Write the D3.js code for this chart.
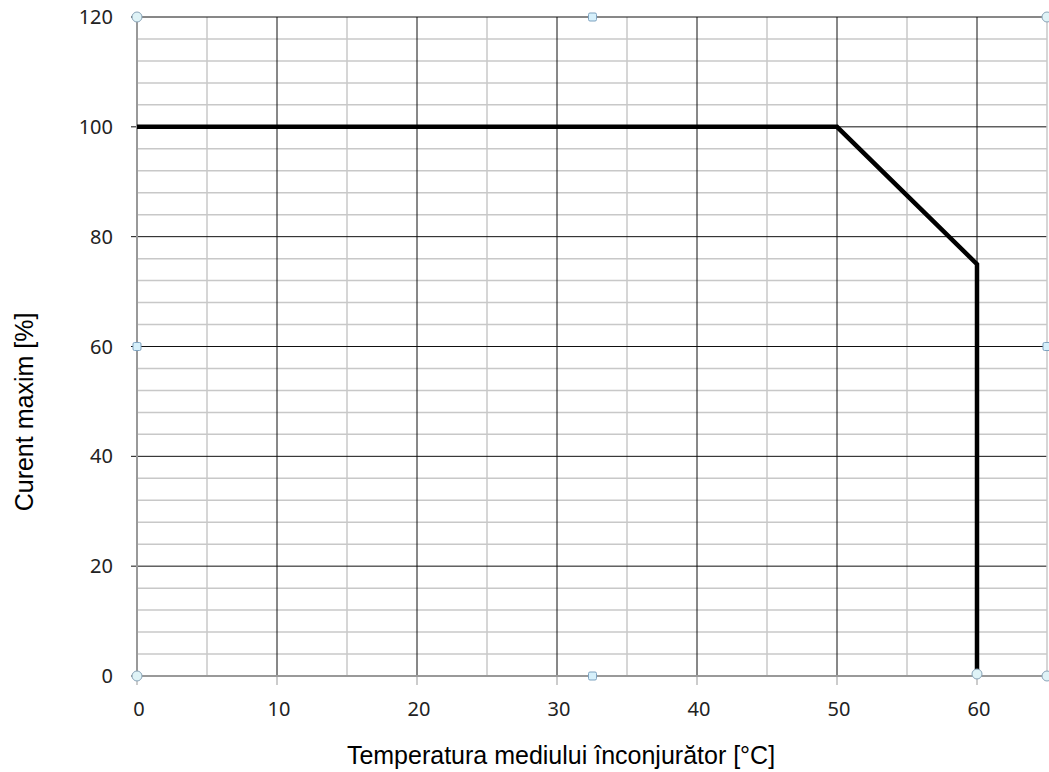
<!DOCTYPE html>
<html>
<head>
<meta charset="utf-8">
<script src="https://cdn.jsdelivr.net/npm/d3@7"></script>
<style>
  body { margin: 0; background: #fff; }
  .tick-label { font-family: "Noto Sans", sans-serif; font-size: 20px; fill: #222; }
  .axis-title { font-family: "Liberation Sans", Arial, sans-serif; font-size: 25px; fill: #000; }
</style>
</head>
<body>
<svg id="chart" width="1049" height="772"></svg>
<script>
  // derating curve: temperature [°C] vs max current [%]
  const temps = [0, 50, 60, 60];
  const currents = [100, 100, 75, 0];
  const xTicks = [0, 10, 20, 30, 40, 50, 60];
  const yTicks = [0, 20, 40, 60, 80, 100, 120];
  const xMinor = d3.range(5, 65, 10);
  const yMinor = d3.range(0, 121, 4).filter(v => v % 20 !== 0);

  const margin = { left: 137, right: 2, top: 17, bottom: 96 };
  const width = 1049;
  const height = 772;
  const svg = d3.select('#chart');

  const x = d3.scaleLinear().domain([0, 65]).range([margin.left, width - margin.right]);
  const y = d3.scaleLinear().domain([0, 120]).range([height - margin.bottom, margin.top]);

  const grid = svg.append('g');

  grid.selectAll('.minor-x')
    .data(xMinor)
    .enter().append('line')
    .attr('x1', d => x(d)).attr('x2', d => x(d))
    .attr('y1', y(0)).attr('y2', y(120))
    .attr('stroke', '#c8c8c8').attr('stroke-width', 1.5);

  grid.selectAll('.minor-y')
    .data(yMinor)
    .enter().append('line')
    .attr('x1', x(0)).attr('x2', x(65))
    .attr('y1', d => y(d)).attr('y2', d => y(d))
    .attr('stroke', '#c8c8c8').attr('stroke-width', 1.5);

  grid.selectAll('.major-x')
    .data(xTicks.filter(d => d > 0))
    .enter().append('line')
    .attr('x1', d => x(d)).attr('x2', d => x(d))
    .attr('y1', y(0)).attr('y2', y(120))
    .attr('stroke', '#111').attr('stroke-width', 1);

  grid.selectAll('.major-y')
    .data(yTicks.filter(d => d > 0))
    .enter().append('line')
    .attr('x1', x(0) - 6).attr('x2', x(65))
    .attr('y1', d => y(d)).attr('y2', d => y(d))
    .attr('stroke', '#111').attr('stroke-width', 1);

  // right border
  grid.append('line')
    .attr('x1', x(65)).attr('x2', x(65))
    .attr('y1', y(0)).attr('y2', y(120))
    .attr('stroke', '#c8c8c8').attr('stroke-width', 1.5);

  // axes
  svg.append('line')
    .attr('x1', x(0)).attr('x2', x(0))
    .attr('y1', y(0)).attr('y2', y(120))
    .attr('stroke', '#999').attr('stroke-width', 2);
  svg.append('line')
    .attr('x1', x(0) - 6).attr('x2', x(65))
    .attr('y1', y(0)).attr('y2', y(0))
    .attr('stroke', '#999').attr('stroke-width', 2);
  svg.append('line')
    .attr('x1', x(0) - 6).attr('x2', x(0))
    .attr('y1', y(120)).attr('y2', y(120))
    .attr('stroke', '#666').attr('stroke-width', 1);

  svg.selectAll('.xtick')
    .data(xTicks)
    .enter().append('line')
    .attr('x1', d => x(d)).attr('x2', d => x(d))
    .attr('y1', y(0)).attr('y2', y(0) + 9)
    .attr('stroke', '#999').attr('stroke-width', 1);

  svg.selectAll('.xlabel')
    .data(xTicks)
    .enter().append('text')
    .attr('class', 'tick-label')
    .attr('x', d => x(d) + 2)
    .attr('y', y(0) + 40)
    .attr('text-anchor', 'middle')
    .text(d => d);

  svg.selectAll('.ylabel')
    .data(yTicks)
    .enter().append('text')
    .attr('class', 'tick-label')
    .attr('x', x(0) - 24)
    .attr('y', d => y(d) + 7)
    .attr('text-anchor', 'end')
    .text(d => d);

  // curve
  const line = d3.line()
    .x(d => x(d[0]))
    .y(d => y(d[1]));

  svg.append('path')
    .datum(temps.map((t, i) => [t, currents[i]]))
    .attr('d', line)
    .attr('fill', 'none')
    .attr('stroke', '#000')
    .attr('stroke-width', 4.5)
    .attr('stroke-linejoin', 'miter');

  // axis titles
  svg.append('text')
    .attr('class', 'axis-title')
    .attr('x', 561)
    .attr('y', 764)
    .attr('text-anchor', 'middle')
    .text('Temperatura mediului înconjurător [°C]');

  svg.append('text')
    .attr('class', 'axis-title')
    .attr('transform', 'translate(33, 412) rotate(-90)')
    .attr('text-anchor', 'middle')
    .text('Curent maxim [%]');

  // selection handles
  const midX = (x(0) + width) / 2 - 0.5;
  const midY = (y(0) + y(120)) / 2;
  const circles = [[x(0), y(120)], [x(65), y(120)], [x(0), y(0)], [x(65), y(0)], [x(60), y(0) - 2]];
  const squares = [[midX, y(120)], [midX, y(0)], [x(0), midY], [x(65), midY]];

  svg.selectAll('.handle-c')
    .data(circles)
    .enter().append('circle')
    .attr('cx', d => d[0]).attr('cy', d => d[1])
    .attr('r', 5)
    .attr('fill', '#dff3f7')
    .attr('stroke', '#8aa4b8').attr('stroke-width', 1);

  svg.selectAll('.handle-s')
    .data(squares)
    .enter().append('rect')
    .attr('x', d => d[0] - 4).attr('y', d => d[1] - 4)
    .attr('width', 8).attr('height', 8)
    .attr('rx', 1.5)
    .attr('fill', '#d6f0fb')
    .attr('stroke', '#7fa3c0').attr('stroke-width', 1);
</script>
</body>
</html>
